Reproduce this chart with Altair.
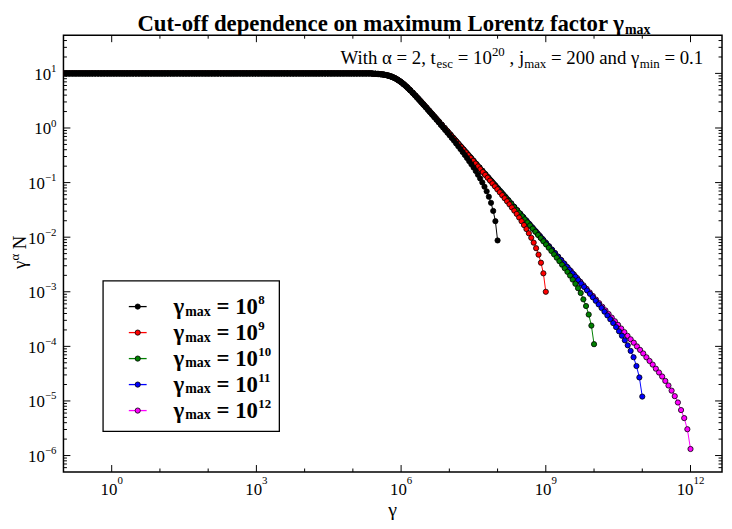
import altair as alt
import numpy as np
import pandas as pd

# ---------------- data ----------------
GAMMA_MIN = 0.1          # gamma_min printed on the chart
J_MAX = 200              # number of grid points (j_max printed on the chart)
gmax_exp = [8, 9, 10, 11, 12]
curve_colors = ["#000000", "#ff0000", "#008000", "#0000ff", "#ff00ff"]
plateau_log = 1.0        # flat part: gamma^alpha N = 10

# log10(gamma^alpha N) for the non-flat end of each curve (ascending gamma)
tail_1e8 = [0.995, 0.993, 0.990, 0.987, 0.982, 0.976, 0.968, 0.957, 0.945, 0.929,
            0.910, 0.887, 0.861, 0.832, 0.799, 0.764, 0.726, 0.687, 0.646, 0.603,
            0.560, 0.516, 0.472, 0.427, 0.382, 0.336, 0.290, 0.244, 0.197, 0.151,
            0.104, 0.057, 0.010, -0.038, -0.085, -0.133, -0.182, -0.231,
            -0.283, -0.335, -0.387, -0.441, -0.495, -0.550, -0.607, -0.665, -0.724, -0.788,
            -0.855, -0.924, -0.997, -1.075, -1.160, -1.259, -1.371, -1.519, -1.707, -2.060]
tail_1e9 = [0.994, 0.992, 0.989, 0.985, 0.979, 0.971, 0.960, 0.946, 0.929, 0.907,
            0.881, 0.851, 0.817, 0.779, 0.738, 0.695, 0.650, 0.603, 0.556, 0.508,
            0.458, 0.409, 0.360, 0.310, 0.260, 0.210, 0.159, 0.109, 0.059, 0.008,
            -0.042, -0.093, -0.143, -0.194, -0.244, -0.295, -0.346, -0.397, -0.448, -0.499,
            -0.550, -0.601, -0.652, -0.704, -0.755, -0.807, -0.859, -0.911, -0.964, -1.016,
            -1.069, -1.123, -1.177, -1.231, -1.286, -1.342, -1.398, -1.456, -1.514, -1.574,
            -1.640, -1.708, -1.778, -1.852, -1.928, -2.011, -2.100, -2.202, -2.320, -2.468,
            -2.662, -3.000]
tail_1e10 = [0.995, 0.993, 0.990, 0.985, 0.979, 0.970, 0.958, 0.942, 0.921, 0.895,
             0.864, 0.828, 0.787, 0.743, 0.695, 0.646, 0.594, 0.542, 0.489, 0.435,
             0.380, 0.326, 0.271, 0.216, 0.160, 0.106, 0.050, -0.005, -0.060, -0.115,
             -0.171, -0.226, -0.281, -0.337, -0.392, -0.447, -0.503, -0.558, -0.614, -0.669,
             -0.724, -0.780, -0.835, -0.891, -0.946, -1.002, -1.057, -1.113, -1.168, -1.224,
             -1.280, -1.336, -1.392, -1.448, -1.504, -1.560, -1.616, -1.673, -1.730, -1.786,
             -1.844, -1.901, -1.959, -2.016, -2.075, -2.133, -2.193, -2.253, -2.314, -2.375,
             -2.439, -2.503, -2.568, -2.635, -2.704, -2.777, -2.854, -2.934, -3.022, -3.139,
             -3.261, -3.417, -3.620, -3.960]
tail_1e11 = [0.994, 0.990, 0.986, 0.979, 0.969, 0.955, 0.936, 0.912, 0.881, 0.845,
             0.802, 0.755, 0.704, 0.650, 0.594, 0.537, 0.479, 0.420, 0.361, 0.301,
             0.241, 0.181, 0.121, 0.061, 0.000, -0.060, -0.120, -0.180, -0.241, -0.301,
             -0.361, -0.422, -0.482, -0.542, -0.603, -0.663, -0.723, -0.783, -0.844, -0.904,
             -0.964, -1.025, -1.085, -1.145, -1.206, -1.266, -1.326, -1.387, -1.447, -1.508,
             -1.568, -1.629, -1.689, -1.749, -1.810, -1.870, -1.931, -1.992, -2.052, -2.113,
             -2.174, -2.234, -2.295, -2.356, -2.417, -2.478, -2.540, -2.601, -2.663, -2.724,
             -2.786, -2.849, -2.911, -2.975, -3.038, -3.101, -3.166, -3.231, -3.297, -3.364,
             -3.433, -3.503, -3.574, -3.647, -3.724, -3.805, -3.889, -3.981, -4.083, -4.199,
             -4.360, -4.569, -4.920]
tail_1e12 = [0.995, 0.993, 0.989, 0.983, 0.974, 0.961, 0.943, 0.919, 0.887, 0.848,
             0.802, 0.751, 0.695, 0.637, 0.576, 0.513, 0.450, 0.385, 0.321, 0.256,
             0.191, 0.126, 0.061, -0.005, -0.070, -0.135, -0.200, -0.266, -0.331, -0.396,
             -0.462, -0.527, -0.592, -0.658, -0.723, -0.788, -0.854, -0.919, -0.984, -1.050,
             -1.115, -1.180, -1.246, -1.311, -1.376, -1.442, -1.507, -1.572, -1.638, -1.703,
             -1.768, -1.834, -1.899, -1.964, -2.030, -2.095, -2.161, -2.226, -2.291, -2.357,
             -2.422, -2.488, -2.553, -2.619, -2.684, -2.749, -2.815, -2.881, -2.946, -3.012,
             -3.077, -3.143, -3.209, -3.275, -3.341, -3.407, -3.473, -3.540, -3.606, -3.673,
             -3.740, -3.807,
             -3.870, -3.933, -4.001, -4.065, -4.130, -4.200, -4.267, -4.334, -4.409, -4.479,
             -4.552, -4.633, -4.717, -4.811, -4.912, -5.028, -5.167, -5.314, -5.518, -5.880]
tails = [tail_1e8, tail_1e9, tail_1e10, tail_1e11, tail_1e12]

# axis ticks
x_major_exp = [0, 3, 6, 9, 12]
x_minor_exp = [1, 2, 4, 5, 7, 8, 10, 11]
y_major_exp = [-6, -5, -4, -3, -2, -1, 0, 1]
y_minor_mult = [2, 3, 4, 5, 6, 7, 8, 9]
X_DOMAIN = [0.1, 4.5e12]
Y_DOMAIN = [5e-7, 50]

# ---------------- layout ----------------
W, H = 665, 441
FONT = "Liberation Serif"
MAJ, MIN = 7, 3.5

xs = alt.Scale(type="log", domain=X_DOMAIN, nice=False)
ys = alt.Scale(type="log", domain=Y_DOMAIN, nice=False)
one = pd.DataFrame({"t": [""]})

layers = []

# curves: 1e12 at the bottom, 1e8 on top
for e, tail, col in reversed(list(zip(gmax_exp, tails, curve_colors))):
    g = np.logspace(np.log10(GAMMA_MIN), e, J_MAX)
    logv = np.array([plateau_log] * (J_MAX - len(tail)) + tail)
    df = pd.DataFrame({"gamma": g, "val": 10.0 ** logv})
    base = alt.Chart(df).encode(
        x=alt.X("gamma:Q", scale=xs, axis=None),
        y=alt.Y("val:Q", scale=ys, axis=None),
    )
    layers.append(base.mark_line(color=col, strokeWidth=1, clip=True))
    layers.append(base.mark_point(shape="circle", filled=True, fill=col, stroke="black",
                                  strokeWidth=0.8, size=28, opacity=1, fillOpacity=1, clip=True))


def sup(k):
    return str(k).replace("-", "\u2212")


# ticks (inward, on all four sides)
xt_major = pd.DataFrame({"v": [10.0 ** k for k in x_major_exp]})
xt_minor = pd.DataFrame({"v": [10.0 ** k for k in x_minor_exp]})
yt_major = pd.DataFrame({"v": [10.0 ** k for k in y_major_exp]})
yt_minor = pd.DataFrame({"v": [m * 10.0 ** k for k in range(-7, 2) for m in y_minor_mult
                               if Y_DOMAIN[0] * 1.001 < m * 10.0 ** k < Y_DOMAIN[1] * 0.999]})

for df, L in [(xt_major, MAJ), (xt_minor, MIN)]:
    b = alt.Chart(df).mark_rule(color="black", strokeWidth=1).encode(x=alt.X("v:Q", scale=xs, axis=None))
    layers.append(b.encode(y=alt.value(H), y2=alt.value(H - L)))
    layers.append(b.encode(y=alt.value(0), y2=alt.value(L)))
for df, L in [(yt_major, MAJ), (yt_minor, MIN)]:
    b = alt.Chart(df).mark_rule(color="black", strokeWidth=1).encode(y=alt.Y("v:Q", scale=ys, axis=None))
    layers.append(b.encode(x=alt.value(0), x2=alt.value(L)))
    layers.append(b.encode(x=alt.value(W), x2=alt.value(W - L)))

# x tick labels  10^k
for n in (1, 2):
    ks = [k for k in x_major_exp if len(sup(k)) == n]
    df = pd.DataFrame({"v": [10.0 ** k for k in ks], "e": [sup(k) for k in ks], "b": ["10"] * len(ks)})
    we = 5.5 * n
    layers.append(alt.Chart(df).mark_text(font=FONT, fontSize=17, align="center", baseline="alphabetic",
                                          dx=-we / 2, color="black")
                  .encode(x=alt.X("v:Q", scale=xs, axis=None), y=alt.value(H + 23), text="b:N"))
    layers.append(alt.Chart(df).mark_text(font=FONT, fontSize=11, align="left", baseline="alphabetic",
                                          dx=8.5 - we / 2, color="black")
                  .encode(x=alt.X("v:Q", scale=xs, axis=None), y=alt.value(H + 12), text="e:N"))

# y tick labels 10^k
for neg in (False, True):
    ks = [k for k in y_major_exp if (k < 0) == neg]
    df = pd.DataFrame({"v": [10.0 ** k for k in ks], "e": [sup(k) for k in ks], "b": ["10"] * len(ks)})
    we = 11.7 if neg else 5.5
    layers.append(alt.Chart(df).mark_text(font=FONT, fontSize=17, align="right", baseline="alphabetic",
                                          dy=6.5, color="black")
                  .encode(y=alt.Y("v:Q", scale=ys, axis=None), x=alt.value(-7 - we), text="b:N"))
    layers.append(alt.Chart(df).mark_text(font=FONT, fontSize=11, align="right", baseline="alphabetic",
                                          dy=-1.5, color="black")
                  .encode(y=alt.Y("v:Q", scale=ys, axis=None), x=alt.value(-7), text="e:N"))


def txt(s, x, y, size, bold=False, align="left", angle=0):
    return alt.Chart(pd.DataFrame({"t": [s]})).mark_text(
        font=FONT, fontSize=size, fontWeight="bold" if bold else "normal", align=align,
        baseline="alphabetic", angle=angle, color="black"
    ).encode(x=alt.value(x), y=alt.value(y), text="t:N")


# title (kept inside the page)
layers.append(txt("Cut-off dependence on maximum Lorentz factor \u03b3", 566, -4.5, 23, bold=True, align="right"))
layers.append(txt("max", 567, -1, 14, bold=True))

# axis titles
layers.append(txt("\u03b3", W / 2, H + 44, 20, align="center"))
layers.append(txt("\u03b3", -38, 236, 19, angle=270))
layers.append(txt("\u03b1", -45, 227.5, 13, angle=270))
layers.append(txt("N", -38, 216, 19, angle=270))

# annotation (top right): (text, size, baseline offset, gap before, width)
SP = 4.75
pieces = [("With \u03b1 = 2, t", 19, 0, 0, 97.1), ("esc", 13, 4, 0, 16.6), ("= 10", 19, 0, SP, 34.5),
          ("20", 13, -8, 0, 13.0), (", j", 19, 0, SP, 14.8), ("max", 13, 4, 0, 22.4),
          ("= 200 and \u03b3", 19, 0, SP, 89.5), ("min", 13, 4, 0, 20.2), ("= 0.1", 19, 0, SP, 39.2)]
xcur = 646 - sum(p[3] + p[4] for p in pieces)
for s, size, off, gap, w in pieces:
    xcur += gap
    layers.append(txt(s, xcur, 29 + off, size))
    xcur += w

# legend box
layers.append(alt.Chart(one).mark_rect(fill="white", stroke="black", strokeWidth=1.3).encode(
    x=alt.value(40), x2=alt.value(218), y=alt.value(248), y2=alt.value(400)))
for i, (e, col) in enumerate(zip(gmax_exp, curve_colors)):
    ry = 274 + i * 26.25
    layers.append(alt.Chart(one).mark_rule(color=col, strokeWidth=1.3).encode(
        x=alt.value(66), x2=alt.value(84), y=alt.value(ry)))
    layers.append(alt.Chart(one).mark_point(shape="circle", filled=True, fill=col, stroke="black",
                                            strokeWidth=0.8, size=28, opacity=1).encode(
        x=alt.value(75), y=alt.value(ry)))
    layers.append(txt("\u03b3", 111, ry + 7, 23, bold=True))
    layers.append(txt("max", 123, ry + 9, 14, bold=True))
    layers.append(txt("= 10", 154.5, ry + 7, 23, bold=True))
    layers.append(txt(str(e), 196.8, ry - 3, 13, bold=True))

chart = alt.layer(*layers).properties(
    width=W, height=H,
    autosize=alt.AutoSizeParams(type="none"),
    padding={"left": 56, "top": 25, "right": 2, "bottom": 48},
).configure_view(stroke="black", strokeWidth=1.5)

chart.save("out.html", embed_options={"renderer": "svg", "actions": False})
